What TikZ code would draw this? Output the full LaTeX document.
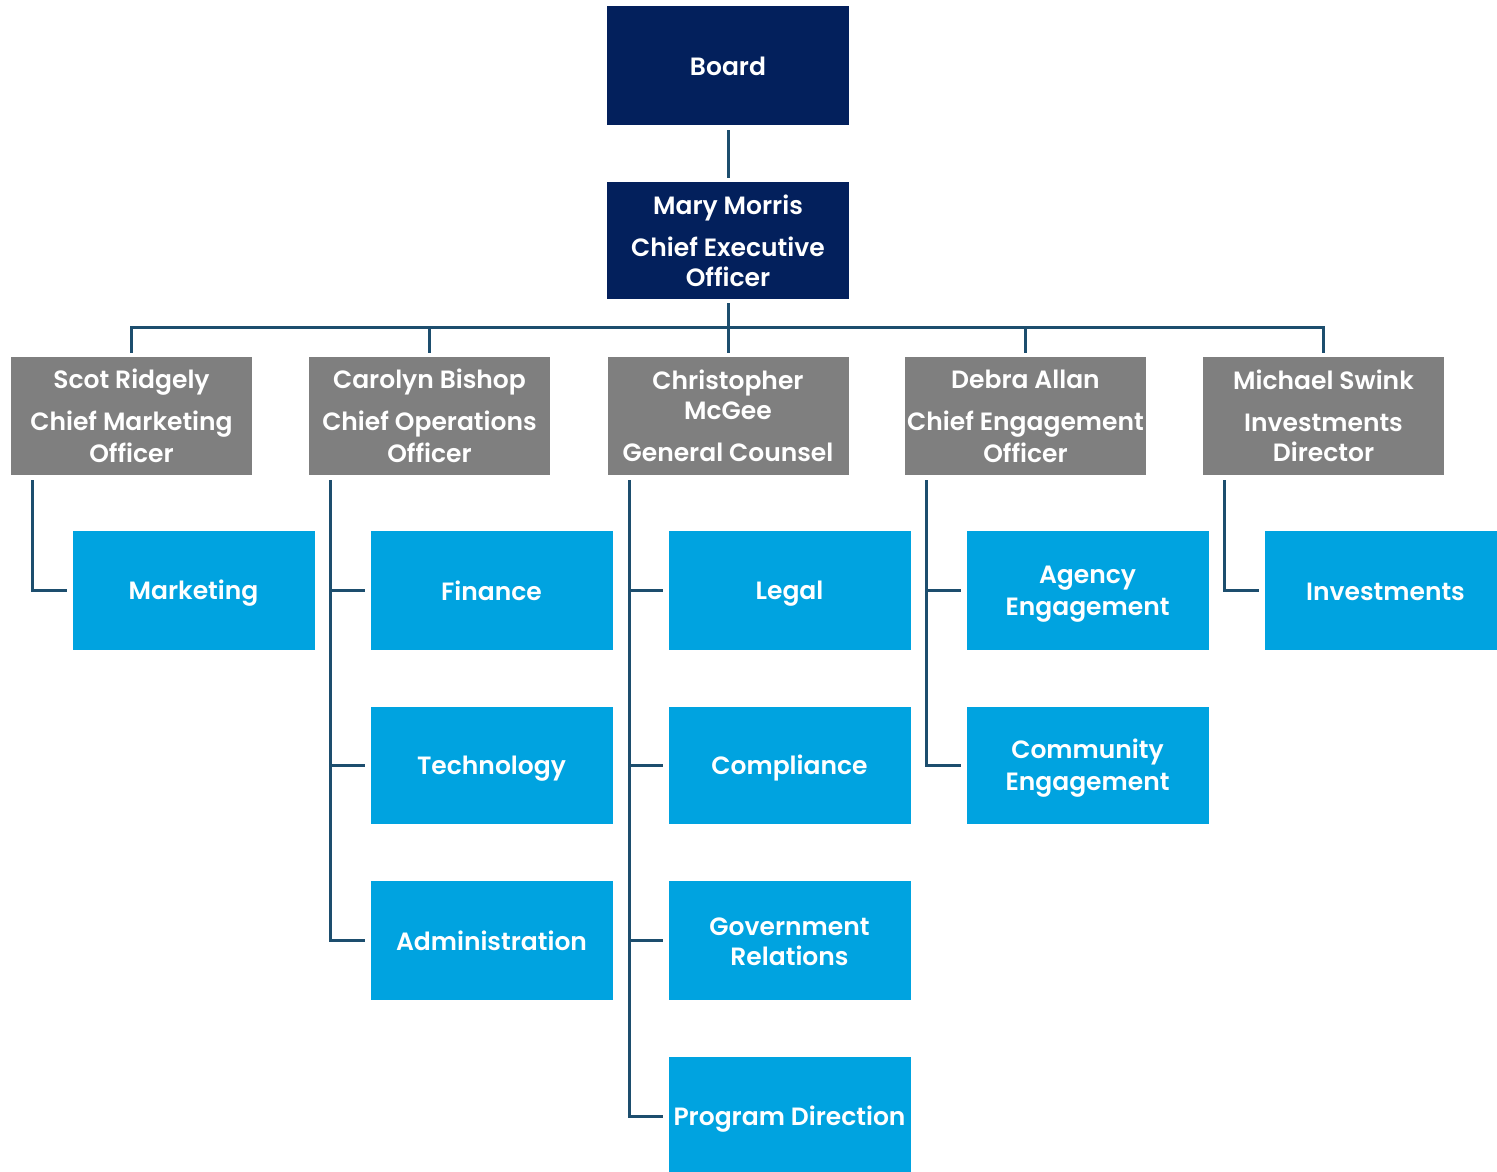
\documentclass[tikz,border=0pt]{standalone}
\usepackage{fontspec}
\setmainfont{Poppins}[BoldFont={Poppins SemiBold}]
\usetikzlibrary{calc}
\definecolor{navy}{HTML}{03205C}
\definecolor{grayb}{HTML}{7F7F7F}
\definecolor{blueb}{HTML}{00A3E0}
\definecolor{conn}{HTML}{1D4E6E}
\newcommand\ls{\rule[-5pt]{0pt}{29.5pt}}
\begin{document}
\begin{tikzpicture}[x=1pt,y=-1pt,
 box/.style={minimum width=242pt, minimum height=119pt, inner sep=0pt, align=center, text=white, font=\fontsize{25}{30}\selectfont\bfseries},
 topbox/.style={box, fill=navy},
 execbox/.style={box, fill=grayb, minimum width=241pt, minimum height=118pt},
 deptbox/.style={box, fill=blueb},
 link/.style={draw=conn, line width=3pt}]
\useasboundingbox (0,0) rectangle (1497,1171);
\clip (0,0) rectangle (1497,1171);
\node[topbox] (board) at (728,65.5) {\ls Board};
\node[topbox, minimum height=117pt] (ceo) at (728,240.5) {\ls Mary Morris\\[12pt]Chief Executive\\Officer\ls};
\node[execbox] (scot) at (131.5,416) {\ls Scot Ridgely\\[12pt]Chief Marketing\\Officer\ls};
\node[execbox] (carolyn) at (429.5,416) {\ls Carolyn Bishop\\[12pt]Chief Operations\\Officer\ls};
\node[execbox] (chris) at (728,416) {\ls Christopher\\McGee\\[12pt]General Counsel\ls};
\node[execbox] (debra) at (1025.5,416) {\ls Debra Allan\\[12pt]Chief Engagement\\Officer\ls};
\node[execbox] (michael) at (1323.5,416) {\ls Michael Swink\\[12pt]Investments\\Director\ls};
\node[deptbox] (marketing) at (193.5,590.5) {\ls Marketing};
\node[deptbox] (finance) at (491.5,590.5) {\ls Finance};
\node[deptbox, minimum height=117pt] (technology) at (491.5,765.5) {\ls Technology};
\node[deptbox] (admin) at (491.5,940.5) {\ls Administration};
\node[deptbox] (legal) at (789.5,590.5) {\ls Legal};
\node[deptbox, minimum height=117pt] (compliance) at (789.5,765.5) {\ls Compliance};
\node[deptbox] (gov) at (789.5,940.5) {\ls Government\\Relations\ls};
\node[deptbox] (program) at (789.5,1116.5) {\ls Program Direction};
\node[deptbox] (agency) at (1087.5,590.5) {\ls Agency\\Engagement\ls};
\node[deptbox, minimum height=117pt] (community) at (1087.5,765.5) {\ls Community\\Engagement\ls};
\node[deptbox] (invest) at (1385.5,590.5) {\ls Investments};
% top connectors
\draw[link] ($(board.south)+(0,5)$) -- ($(ceo.north)+(0,-4)$);
\coordinate (bus) at (728,327);
\draw[link] ($(ceo.south)+(0,4)$) -- (ceo.south |- bus);
\draw[link] ($(scot.north)+(0,-4)$) |- (michael.north |- bus) -- ($(michael.north)+(0,-4)$);
\draw[link] (carolyn.north |- bus) -- ($(carolyn.north)+(0,-4)$);
\draw[link] (chris.north |- bus) -- ($(chris.north)+(0,-4)$);
\draw[link] (debra.north |- bus) -- ($(debra.north)+(0,-4)$);
% trunks
\coordinate (st) at ($(scot.south west)+(22,5)$);
\coordinate (ct) at ($(carolyn.south west)+(22,5)$);
\coordinate (xt) at ($(chris.south west)+(22,5)$);
\coordinate (dt) at ($(debra.south west)+(22,5)$);
\coordinate (mt) at ($(michael.south west)+(22,5)$);
\draw[link] (st) |- ($(marketing.west)+(-5,0)$);
\draw[link] (ct) |- ($(admin.west)+(-5,0)$);
\draw[link] (ct |- finance.west) -- ($(finance.west)+(-5,0)$);
\draw[link] (ct |- technology.west) -- ($(technology.west)+(-5,0)$);
\draw[link] (xt) |- ($(program.west)+(-5,0)$);
\draw[link] (xt |- legal.west) -- ($(legal.west)+(-5,0)$);
\draw[link] (xt |- compliance.west) -- ($(compliance.west)+(-5,0)$);
\draw[link] (xt |- gov.west) -- ($(gov.west)+(-5,0)$);
\draw[link] (dt) |- ($(community.west)+(-5,0)$);
\draw[link] (dt |- agency.west) -- ($(agency.west)+(-5,0)$);
\draw[link] (mt) |- ($(invest.west)+(-5,0)$);
\end{tikzpicture}
\end{document}
